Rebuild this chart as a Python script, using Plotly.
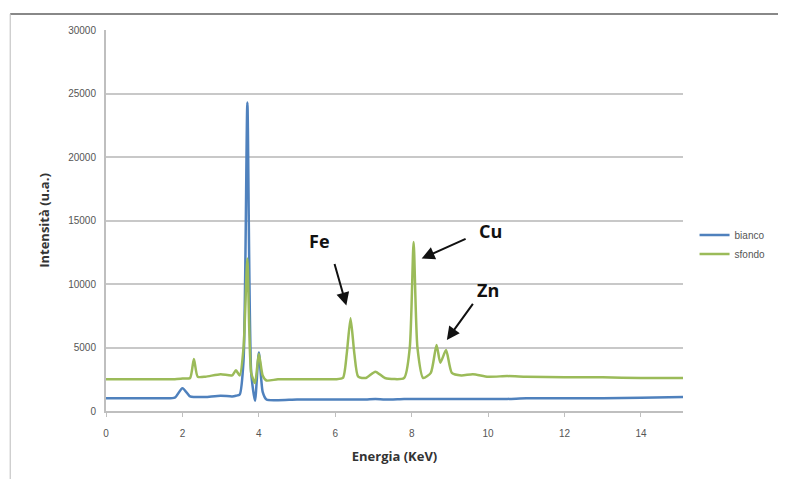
import plotly.graph_objects as go

energy = [0, 0.5, 1.0, 1.5, 1.8, 2.0, 2.2, 2.3, 2.4, 2.6, 3.0, 3.3, 3.4, 3.5, 3.6, 3.7, 3.8, 3.9,
          4.0, 4.1, 4.2, 4.5, 5.0, 5.5, 6.0, 6.2, 6.3, 6.4, 6.5, 6.6, 6.8, 7.05, 7.3, 7.8, 7.95,
          8.05, 8.15, 8.3, 8.5, 8.65, 8.75, 8.9, 9.05, 9.3, 9.6, 10.0, 10.5, 11.0, 12.0, 13.0, 14.0, 15.1]

blu = [1000, 1000, 1000, 1000, 1050, 1800, 1150, 1100, 1100, 1100, 1200, 1150, 1200, 1300, 4000, 24300, 3000, 800,
       4600, 1500, 900, 850, 900, 900, 900, 900, 900, 900, 900, 900, 900, 950, 900, 950, 950,
       950, 950, 950, 950, 950, 950, 950, 950, 950, 950, 950, 950, 1000, 1000, 1000, 1050, 1100]

verde = [2500, 2500, 2500, 2500, 2500, 2550, 2600, 4100, 2700, 2700, 2900, 2800, 3200, 2800, 5000, 12000, 3000, 2200,
         4500, 2800, 2400, 2500, 2500, 2500, 2500, 2600, 4500, 7300, 4500, 2700, 2600, 3100, 2600, 2600, 5000,
         13300, 5000, 2600, 3000, 5200, 3800, 4800, 3000, 2800, 2900, 2700, 2750, 2700, 2650, 2650, 2600, 2600]

series_names = ["bianco", "sfondo"]
x_ticks = [0, 2, 4, 6, 8, 10, 12, 14]
y_ticks = [0, 5000, 10000, 15000, 20000, 25000, 30000]

fig = go.Figure()
fig.add_trace(go.Scatter(x=energy, y=blu, mode="lines", name=series_names[0],
                         line=dict(color="#4F81BD", width=2.5, shape="spline", smoothing=0.6)))
fig.add_trace(go.Scatter(x=energy, y=verde, mode="lines", name=series_names[1],
                         line=dict(color="#9BBB59", width=2.5, shape="spline", smoothing=0.6)))

tick_font = dict(family="Liberation Sans, Arial, sans-serif", size=10, color="#555555")
title_font = dict(family="Open Sans, Liberation Sans, sans-serif", size=13, color="#333333")

fig.update_layout(
    width=778, height=471,
    margin=dict(l=98, r=103, t=22, b=68),
    paper_bgcolor="white", plot_bgcolor="white",
    showlegend=True,
    legend=dict(x=1.02, y=0.5, xanchor="left", yanchor="top",
                font=dict(family="Liberation Sans, sans-serif", size=10, color="#555555"),
                bgcolor="rgba(0,0,0,0)"),
    xaxis=dict(range=[0, 15.1], tickvals=x_ticks, ticktext=[str(v) for v in x_ticks],
               showgrid=False, zeroline=False, showline=True, linecolor="#BFBFBF", linewidth=2,
               ticks="outside", ticklen=4, tickcolor="#BFBFBF", tickfont=tick_font,
               ticklabelstandoff=8,
               title=dict(text="<b>Energia (KeV)</b>", font=title_font, standoff=14)),
    yaxis=dict(range=[0, 30000], tickvals=y_ticks, ticktext=[str(v) for v in y_ticks],
               showgrid=True, gridcolor="#C8C8C8", gridwidth=2, zeroline=False,
               showline=True, linecolor="#BFBFBF", linewidth=2,
               ticks="", tickfont=tick_font, ticklabelstandoff=6,
               title=dict(text="<b>Intensità (u.a.)</b>", font=title_font, standoff=16)),
)

# outer chart border (top and left)
fig.add_shape(type="line", xref="paper", yref="paper", x0=-0.166, x1=1.2, y0=1.042, y1=1.042,
              line=dict(color="#888888", width=2))
fig.add_shape(type="line", xref="paper", yref="paper", x0=-0.166, x1=-0.166, y0=-0.2, y1=1.042,
              line=dict(color="#BBBBBB", width=1))

ann_font = dict(family="Open Sans, Liberation Sans, sans-serif", size=18, color="#111111")
labels = [("Fe", 5.58, 13400, 6.29, 8300, 5.97, 11700),
          ("Cu", 10.05, 14200, 8.26, 12000, 9.45, 13600),
          ("Zn", 10.0, 9500, 8.92, 5600, 9.63, 8550)]
for txt, tx, ty, hx, hy, axx, ayy in labels:
    fig.add_annotation(x=tx, y=ty, text="<b>%s</b>" % txt, showarrow=False, font=ann_font)
    fig.add_annotation(x=hx, y=hy, ax=axx, ay=ayy, axref="x", ayref="y", xref="x", yref="y",
                       text="", showarrow=True, arrowhead=2, arrowsize=1.3, arrowwidth=2,
                       arrowcolor="#111111")

fig.write_html("out.html")
